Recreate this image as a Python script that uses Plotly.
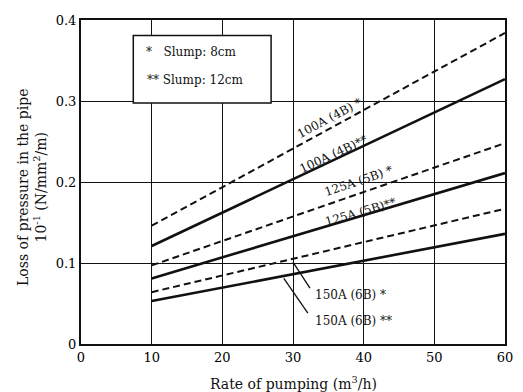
import numpy as np
import plotly.graph_objects as go

# ---- data ----
rate = [10, 60]
loss_100a_8 = [0.146, 0.384]
loss_100a_12 = [0.121, 0.327]
loss_125a_8 = [0.097, 0.248]
loss_125a_12 = [0.081, 0.211]
loss_150a_8 = [0.064, 0.167]
loss_150a_12 = [0.053, 0.136]
x_ticks = [0, 10, 20, 30, 40, 50, 60]
y_ticks = [0, 0.1, 0.2, 0.3, 0.4]

FONT = "DejaVu Serif"
INK = "#111111"

fig = go.Figure()
series = [
    (loss_100a_8, "dash", 2.0),
    (loss_100a_12, "solid", 2.6),
    (loss_125a_8, "dash", 2.0),
    (loss_125a_12, "solid", 2.6),
    (loss_150a_8, "dash", 2.0),
    (loss_150a_12, "solid", 2.6),
]
for ys, dash, w in series:
    fig.add_trace(go.Scatter(
        x=rate, y=ys, mode="lines",
        line=dict(color=INK, width=w, dash="7px,4px" if dash == "dash" else "solid"),
        showlegend=False, hoverinfo="skip"))

W, H = 523, 392
ml, mr, mt, mb = 81, 10, 20, 48
pw, ph = W - ml - mr, H - mt - mb
px_per_x = pw / 60.0
px_per_y = ph / 0.4


def angle(ys):
    slope = (ys[1] - ys[0]) / (rate[1] - rate[0])
    return -np.degrees(np.arctan(slope * px_per_y / px_per_x))


def interp(ys, x):
    return float(np.interp(x, rate, ys))


# rotated line labels
labels = [
    ("100A (4B) *", loss_100a_8, 35.2, 0.279),
    ("100A (4B)**", loss_100a_12, 35.8, 0.2345),
    ("125A (5B) *", loss_125a_8, 39.3, 0.2015),
    ("125A (5B)**", loss_125a_12, 39.55, 0.163),
]
for txt, ys, lx, ly in labels:
    fig.add_annotation(x=lx, y=ly, text=txt, showarrow=False, textangle=angle(ys),
                       font=dict(family=FONT, size=12, color=INK))

# 150A labels with leader lines
fig.add_annotation(x=32.9, y=0.0605, text="150A (6B) *", showarrow=False,
                   xanchor="left", font=dict(family=FONT, size=12, color=INK))
fig.add_annotation(x=32.9, y=0.0284, text="150A (6B) **", showarrow=False,
                   xanchor="left", font=dict(family=FONT, size=12, color=INK))
fig.add_shape(type="line", x0=30.0, y0=interp(loss_150a_8, 30.0) - 0.004, x1=32.4, y1=0.069,
              line=dict(color=INK, width=1.3))
fig.add_shape(type="line", x0=28.7, y0=interp(loss_150a_12, 28.7) - 0.003, x1=32.1, y1=0.038,
              line=dict(color=INK, width=1.3))

# legend box
fig.add_shape(type="rect", x0=7.4, x1=26.9, y0=0.2975, y1=0.381, layer="above",
              fillcolor="white", line=dict(color=INK, width=1.5))
fig.add_annotation(x=8.9, y=0.3605, text="*\u00a0\u00a0\u00a0Slump: 8cm", showarrow=False,
                   xanchor="left", font=dict(family=FONT, size=12, color=INK))
fig.add_annotation(x=9.0, y=0.326, text="** Slump: 12cm", showarrow=False,
                   xanchor="left", font=dict(family=FONT, size=12, color=INK))

# axis titles as annotations
fig.add_annotation(xref="paper", yref="paper", x=(31 - ml) / pw, y=(mt + ph - 187) / ph,
                   text="Loss of pressure in the pipe<br>10<sup>-1</sup> (N/mm<sup>2</sup>/m)",
                   textangle=-90, showarrow=False, xanchor="center", yanchor="middle",
                   font=dict(family=FONT, size=14, color=INK))
fig.add_annotation(xref="paper", yref="paper", x=0.5, y=(mt + ph - 383) / ph,
                   text="Rate of pumping (m<sup>3</sup>/h)", showarrow=False,
                   xanchor="center", yanchor="middle",
                   font=dict(family=FONT, size=14, color=INK))

fig.update_xaxes(range=[0, 60], tickvals=x_ticks, ticktext=[str(v) for v in x_ticks],
                 showgrid=True, gridcolor=INK, gridwidth=1.3, zeroline=False,
                 showline=True, linecolor=INK, linewidth=2, mirror=True,
                 ticks="", tickfont=dict(family=FONT, size=13, color="#000000"))
fig.update_yaxes(range=[0, 0.4], tickvals=y_ticks, ticktext=["0", "0.1", "0.2", "0.3", "0.4"],
                 showgrid=True, gridcolor=INK, gridwidth=1.3, zeroline=False,
                 showline=True, linecolor=INK, linewidth=2, mirror=True,
                 ticks="", tickfont=dict(family=FONT, size=13, color="#000000"))

fig.update_layout(width=W, height=H, margin=dict(l=ml, r=mr, t=mt, b=mb),
                  plot_bgcolor="white", paper_bgcolor="white", showlegend=False)

fig.write_html("out.html", config={"displayModeBar": False},
               post_script="document.body.style.margin='0';document.body.style.overflow='hidden';")
